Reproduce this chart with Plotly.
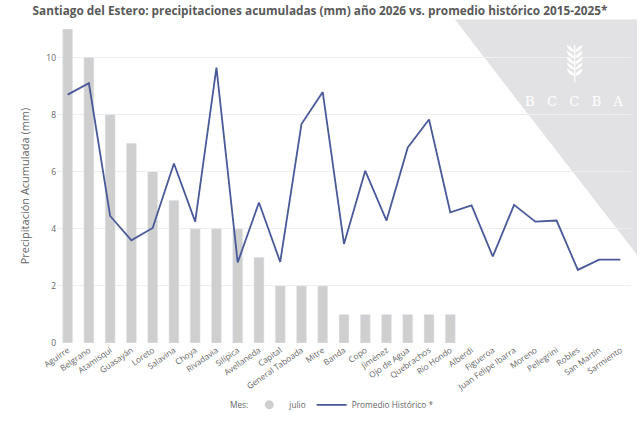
import plotly.graph_objects as go

departamentos = ["Aguirre", "Belgrano", "Atamisqui", "Guasayán", "Loreto", "Salavina", "Choya",
                 "Rivadavia", "Silípica", "Avellaneda", "Capital", "General Taboada", "Mitre",
                 "Banda", "Copo", "Jiménez", "Ojo de Agua", "Quebrachos", "Río Hondo", "Alberdi",
                 "Figueroa", "Juan Felipe Ibarra", "Moreno", "Pellegrini", "Robles", "San Martín",
                 "Sarmiento"]
julio_2026 = [11, 10, 8, 7, 6, 5, 4, 4, 4, 3, 2, 2, 2, 1, 1, 1, 1, 1, 1,
              None, None, None, None, None, None, None, None]
promedio_hist = [8.7, 9.1, 4.45, 3.6, 4.03, 6.29, 4.25, 9.65, 2.82, 4.92, 2.84, 7.67, 8.79,
                 3.47, 6.03, 4.29, 6.85, 7.83, 4.58, 4.82, 3.03, 4.84, 4.25, 4.29, 2.56, 2.92, 2.92]

fig = go.Figure()

# marca de agua (triangulo gris de fondo)
fig.add_shape(type="path", xref="paper", yref="paper", layer="below",
              path="M 0.6932 1.03 L 1.0105 1.03 L 1.0105 0.281 Z",
              fillcolor="#e2e2e4", line_width=0)

fig.add_trace(go.Bar(x=departamentos, y=julio_2026, name="julio", marker_color="#cfcfcf",
                     showlegend=False))
fig.add_trace(go.Scatter(x=[None], y=[None], mode="markers", name="julio",
                         marker=dict(symbol="circle", size=9, color="#cfcfcf")))
fig.add_trace(go.Scatter(x=departamentos, y=promedio_hist, mode="lines", name="Promedio Histórico *",
                         line=dict(color="#4a5998", width=1.8)))

# espiga de trigo
stem_x, stem_top, stem_bot = 0.902, 0.95, 0.83
fig.add_shape(type="line", xref="paper", yref="paper", x0=stem_x, x1=stem_x, y0=stem_bot, y1=stem_top,
              line=dict(color="white", width=1.2))
for i in range(5):
    yy = 0.85 + i * 0.019
    fig.add_shape(type="path", xref="paper", yref="paper",
                  path=f"M {stem_x} {yy} Q {stem_x - 0.012} {yy + 0.004} {stem_x - 0.014} {yy + 0.024} "
                       f"Q {stem_x - 0.003} {yy + 0.016} {stem_x} {yy} Z",
                  fillcolor="white", line_width=0)
    fig.add_shape(type="path", xref="paper", yref="paper",
                  path=f"M {stem_x} {yy} Q {stem_x + 0.012} {yy + 0.004} {stem_x + 0.014} {yy + 0.024} "
                       f"Q {stem_x + 0.003} {yy + 0.016} {stem_x} {yy} Z",
                  fillcolor="white", line_width=0)

nb = "\u00a0" * 3
fig.add_annotation(text=nb.join("BCCBA"), xref="paper", yref="paper", x=0.902, y=0.80,
                   xanchor="center", showarrow=False,
                   font=dict(family="DejaVu Serif", size=13, color="white"))

# titulo de la leyenda
fig.add_annotation(text="Mes:", xref="paper", yref="paper", x=0.337, xanchor="right",
                   y=-0.196, yanchor="middle", showarrow=False, font=dict(size=8.3, color="#666666"))

fig.update_layout(
    width=640, height=423,
    margin=dict(l=57, r=9, t=29, b=80, autoexpand=False),
    paper_bgcolor="white", plot_bgcolor="rgba(0,0,0,0)",
    font=dict(family="Open Sans", color="#666666"),
    title=dict(text="<b>Santiago del Estero: precipitaciones acumuladas (mm) año 2026 vs. promedio histórico 2015-2025*</b>",
               x=0.5, xanchor="center", y=0.985, yanchor="top",
               font=dict(size=11.8, color="#595959")),
    bargap=0.53,
    legend=dict(orientation="h", x=0.335, xanchor="left", yref="container", y=0.043, yanchor="middle",
                font=dict(size=8.3, color="#666666"), itemwidth=30),
)

fig.update_xaxes(tickangle=-35, tickfont=dict(size=8.3, color="#666666"), showgrid=False,
                 showline=False, ticks="", automargin=False)
fig.update_yaxes(range=[0, 11], tickvals=[0, 2, 4, 6, 8, 10], tickfont=dict(size=8.5, color="#666666"),
                 gridcolor="#eeeeee", zeroline=False, automargin=False,
                 title=dict(text="Precipitación Acumulada (mm)", font=dict(size=11, color="#666666"),
                            standoff=14))

fig.write_html("out.html", config={"displayModeBar": False},
               post_script="document.body.style.margin = '0';")
